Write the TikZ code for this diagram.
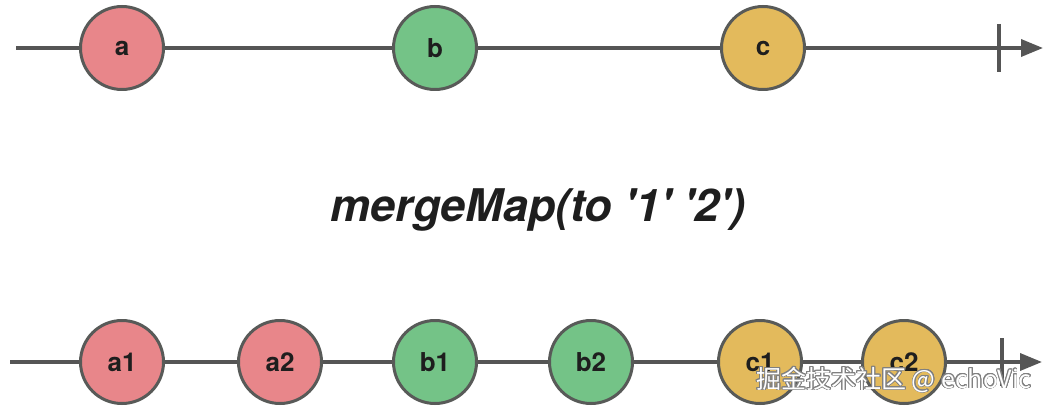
\documentclass[tikz,border=0pt]{standalone}
\usepackage{fontspec}
\setmainfont{TeX Gyre Heros}
\newfontfamily\cjk{Noto Sans CJK SC}
\usepackage{contour}
\usetikzlibrary{arrows.meta}

\definecolor{marbleRed}{HTML}{E8868A}
\definecolor{marbleGreen}{HTML}{74C387}
\definecolor{marbleYellow}{HTML}{E3BA5C}
\definecolor{edgeGray}{HTML}{585A58}
\definecolor{lineGray}{HTML}{555555}
\definecolor{inkBlack}{HTML}{1E1E1E}
\contourlength{0.9pt}

\begin{document}
\begin{tikzpicture}[x=1pt, y=1pt,
  marble/.style={circle, draw=edgeGray, line width=3pt, minimum size=83pt, inner sep=0pt,
    font=\fontsize{26}{26}\selectfont\bfseries, text=inkBlack},
  timeline/.style={draw=lineGray, line width=3.5pt, -{Triangle[length=22pt,width=17pt]}},
  endtick/.style={draw=lineGray, line width=3.5pt}]
  \useasboundingbox (0,0) rectangle (1048,410);

  % source stream
  \coordinate (src0) at (16,362);
  \coordinate (src1) at (1043,362);
  \draw[timeline] (src0) -- (src1);
  \coordinate (srcTickUp) at (999,386);
  \coordinate (srcTickDn) at (999,338);
  \draw[endtick] (srcTickUp) -- (srcTickDn);
  \node[marble, fill=marbleRed]    (a) at (122,362) {a};
  \node[marble, fill=marbleGreen]  (b) at (435,362) {b};
  \node[marble, fill=marbleYellow] (c) at (763,362) {c};

  % operator
  \node[font=\fontsize{45}{45}\selectfont\bfseries\itshape, text=inkBlack] (op) at (538,200)
    {mergeMap(to \textquotesingle1\textquotesingle{} \textquotesingle2\textquotesingle)};

  % result stream
  \coordinate (out0) at (10,48);
  \coordinate (out1) at (1042,48);
  \draw[timeline] (out0) -- (out1);
  \coordinate (outTickUp) at (1002,72);
  \coordinate (outTickDn) at (1002,24);
  \draw[endtick] (outTickUp) -- (outTickDn);
  \node[marble, fill=marbleRed]    (a1) at (122,48) {a1};
  \node[marble, fill=marbleRed]    (a2) at (280,48) {a2};
  \node[marble, fill=marbleGreen]  (b1) at (435,48) {b1};
  \node[marble, fill=marbleGreen]  (b2) at (591,48) {b2};
  \node[marble, fill=marbleYellow] (c1) at (760,48) {c1};
  \node[marble, fill=marbleYellow] (c2) at (904,48) {c2};

  \node[font=\cjk\fontsize{25}{25}\selectfont] (mark) at (894,30)
    {\contour{gray}{\color{white}掘金技术社区 @ echoVic}};
\end{tikzpicture}
\end{document}
